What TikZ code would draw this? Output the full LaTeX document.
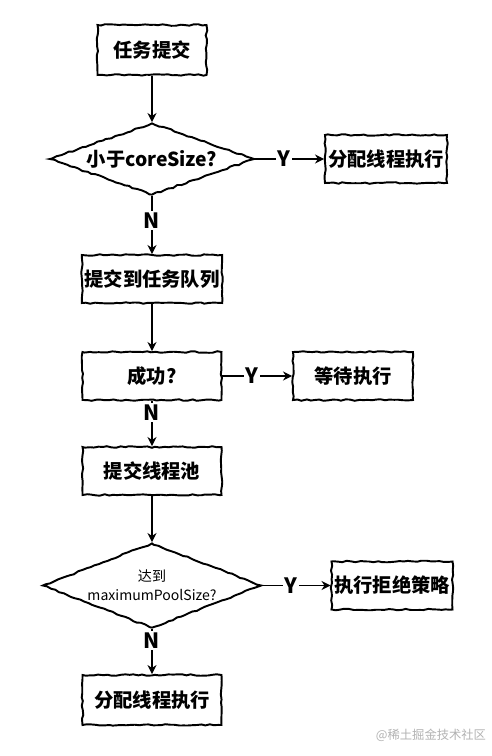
\documentclass[tikz,border=0pt]{standalone}
\usepackage{fontspec}
\setmainfont{Noto Sans CJK SC}
\usetikzlibrary{arrows.meta,positioning,shapes.geometric,decorations.pathmorphing}
\tikzset{
  sketch/.style={decorate, decoration={random steps, segment length=2.5pt, amplitude=0.45pt}},
  box/.style={draw, rectangle, sketch, line width=1.1pt, align=center, font=\fontsize{11}{13}\selectfont\bfseries, minimum height=0.96cm, inner xsep=0.5mm},
  decision/.style={draw, diamond, sketch, line width=1.1pt, align=center, inner sep=0pt, font=\fontsize{11}{13}\selectfont\bfseries},
  arr/.style={-{Stealth[length=1.8mm,width=1.8mm]}, line width=0.7pt},
  yn/.style={fill=white, font=\fontsize{12}{14}\selectfont\bfseries, inner sep=1pt}
}
\begin{document}
\begin{tikzpicture}
\pgfmathsetseed{7}
\useasboundingbox (0,0) rectangle (9.84,-15.12);

\node[box, minimum width=2.18cm, minimum height=1.0cm] (submit) at (3.04,-1.0) {任务提交};
\node[decision, minimum width=4.1cm, minimum height=1.44cm, aspect=2.85] (lesscore) at (3.04,-3.18) {小于coreSize?};
\node[box, minimum width=2.44cm] (runA) at (7.72,-3.18) {分配线程执行};
\node[box, minimum width=2.78cm] (queue) at (3.04,-5.58) {提交到任务队列};
\node[box, minimum width=2.78cm] (ok) at (3.04,-7.52) {成功?};
\node[box, minimum width=2.4cm] (wait) at (7.06,-7.52) {等待执行};
\node[box, minimum width=2.78cm] (pool) at (3.04,-9.42) {提交线程池};
\node[decision, minimum width=4.38cm, minimum height=1.7cm, aspect=2.58, font=\fontsize{8}{11}\selectfont] (maxpool) at (3.04,-11.71) {达到\\maximumPoolSize?};
\node[box, minimum width=2.42cm] (reject) at (7.84,-11.71) {执行拒绝策略};
\node[box, minimum width=2.78cm, minimum height=1.0cm] (runB) at (3.04,-14.0) {分配线程执行};
\node[font=\fontsize{7}{8}\selectfont, text=gray!60] (mark) at (8.62,-14.7) {@稀土掘金技术社区};

\draw[arr] (submit) -- (lesscore);
\draw[arr] (lesscore) -- node[yn,pos=0.42]{Y} (runA);
\draw[arr] (lesscore) -- node[yn,pos=0.42]{N} (queue);
\draw[arr] (queue) -- (ok);
\draw[arr] (ok) -- node[yn,pos=0.42]{Y} (wait);
\draw[arr] (ok) -- node[yn,pos=0.25]{N} (pool);
\draw[arr] (pool) -- (maxpool);
\draw[arr] (maxpool) -- node[yn,pos=0.42]{Y} (reject);
\draw[arr] (maxpool) -- node[yn,pos=0.25]{N} (runB);
\end{tikzpicture}
\end{document}
